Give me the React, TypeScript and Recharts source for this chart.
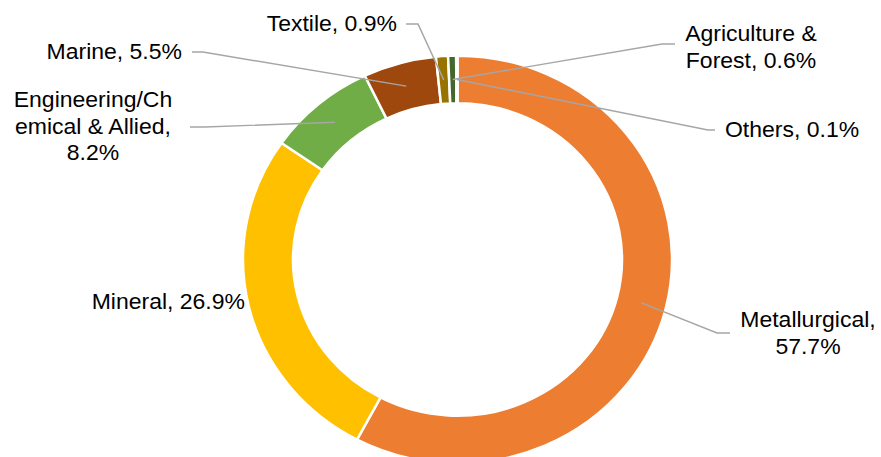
import React from "react";
import { PieChart, Pie, Cell } from "recharts";

const categories = [
  "Metallurgical",
  "Mineral",
  "Engineering/Chemical & Allied",
  "Marine",
  "Textile",
  "Agriculture & Forest",
  "Others",
];
const shares = [57.7, 26.9, 8.2, 5.5, 0.9, 0.6, 0.1];
// how each data label is broken into lines, {v} is the share
const labelLines = [
  ["Metallurgical,", "{v}%"],
  ["Mineral, {v}%"],
  ["Engineering/Ch", "emical & Allied,", "{v}%"],
  ["Marine, {v}%"],
  ["Textile, {v}%"],
  ["Agriculture &", "Forest, {v}%"],
  ["Others, {v}%"],
];
const COLORS = ["#ED7D31", "#FFC000", "#70AD47", "#9E480E", "#997300", "#43682B", "#264478"];

const data = categories.map((name, i) => ({ name, value: shares[i] }));

// the picture is slightly squashed vertically
const SY = 0.95;
const W = 881;
const H = 457;

// label placement in screen px (x, y = centre of first line), leader elbow points
type LabelPos = {
  x: number;
  y: number;
  anchor: "start" | "middle" | "end";
  leader: number[][];
};
const LABEL_POS: LabelPos[] = [
  { x: 808, y: 320, anchor: "middle", leader: [[717, 333], [730, 333]] },
  { x: 245, y: 302, anchor: "end", leader: [] },
  { x: 93, y: 100, anchor: "middle", leader: [[205, 127], [190, 127]] },
  { x: 182, y: 52, anchor: "end", leader: [[203, 52], [192, 52]] },
  { x: 397, y: 24, anchor: "end", leader: [[418, 24], [406, 24]] },
  { x: 751, y: 34, anchor: "middle", leader: [[662, 44], [675, 44]] },
  { x: 725, y: 130, anchor: "start", leader: [[708, 130], [715, 130]] },
];
const LINE_H = 26.5;

const renderLabel = (props: any) => {
  const { midAngle, innerRadius, outerRadius, index, value } = props;
  const cx = Number(props.cx);
  const cy = Number(props.cy);
  const pos = LABEL_POS[index];
  const r = (Number(innerRadius) + Number(outerRadius)) / 2;
  const rad = (-midAngle * Math.PI) / 180;
  const px = cx + r * Math.cos(rad);
  const py = cy + r * Math.sin(rad);
  const pts = [[px, py], ...pos.leader.map(([x, y]) => [x, y / SY])];
  const lines = labelLines[index].map((t) => t.replace("{v}", String(value)));
  return (
    <g key={`lbl-${index}`}>
      {pos.leader.length > 0 && (
        <polyline
          points={pts.map((p) => p.join(",")).join(" ")}
          fill="none"
          stroke="#A6A6A6"
          strokeWidth={1.5}
        />
      )}
      <text
        x={pos.x}
        y={pos.y / SY}
        textAnchor={pos.anchor}
        fill="#000"
        fontSize={23}
        fontFamily="'Liberation Sans', Arial, sans-serif"
      >
        {lines.map((t, i) => (
          <tspan key={i} x={pos.x} y={(pos.y + i * LINE_H) / SY} dominantBaseline="central">
            {t}
          </tspan>
        ))}
      </text>
    </g>
  );
};

export default function App() {
  return (
    <div style={{ position: "absolute", left: 0, top: 0, width: W, height: H, overflow: "hidden", background: "#fff" }}>
      <div style={{ transform: `scaleY(${SY})`, transformOrigin: "0 0" }}>
        <PieChart width={W} height={H / SY} margin={{ top: 0, right: 0, bottom: 0, left: 0 }}>
          <Pie
            data={data}
            dataKey="value"
            nameKey="name"
            cx={457.5}
            cy={259.5 / SY}
            innerRadius={164.5}
            outerRadius={214.5}
            startAngle={90}
            endAngle={-270}
            stroke="#fff"
            strokeWidth={2.5}
            label={renderLabel}
            labelLine={false}
            isAnimationActive={false}
          >
            {data.map((entry, index) => (
              <Cell key={`cell-${index}`} fill={COLORS[index % COLORS.length]} />
            ))}
          </Pie>
        </PieChart>
      </div>
    </div>
  );
}
